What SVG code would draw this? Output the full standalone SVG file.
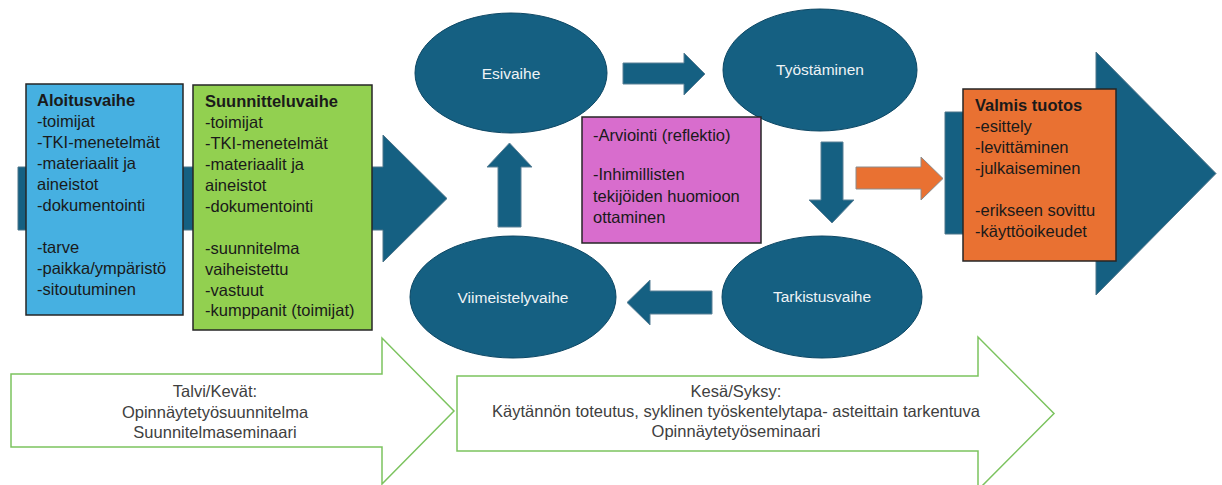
<svg xmlns="http://www.w3.org/2000/svg" width="1222" height="485" viewBox="0 0 1222 485">
<style>
text{font-family:"Liberation Sans",Arial,sans-serif;}
.bt{font-size:16.5px;fill:#1a1a1a;}
.bt .h{font-weight:bold;}
.et{font-size:15.5px;fill:#eef3f6;text-anchor:middle;}
.lt{font-size:16.5px;fill:#404040;text-anchor:middle;}
.big{fill:#156082;stroke:#4d7489;stroke-width:1;}
.ell{fill:#156082;stroke:#0d4764;stroke-width:1;}
.conn{fill:#156082;stroke:#5b8096;stroke-width:1;}
.box{stroke:#262626;stroke-width:1.5;}
.tl{fill:#ffffff;stroke:#7cc35f;stroke-width:1.5;}
</style>
<rect width="1222" height="485" fill="#ffffff"/>
<g id="background-arrows">
<path class="big" d="M18,167 H383 V135 L447,198.5 L383,262 V230 H18 Z"/>
<path class="big" d="M945,112 H1096 V52 L1216,173.5 L1096,295 V234 H945 Z"/>
</g>
<g id="timeline">
<g id="talvi-kevat">
<path class="tl" d="M11,374 H382 V338 L454,411 L382,484 V447 H11 Z"/>
<text class="lt" x="215" y="397">Talvi/Kevät:</text>
<text class="lt" x="215" y="418">Opinnäytetyösuunnitelma</text>
<text class="lt" x="215" y="438">Suunnitelmaseminaari</text>
</g>
<g id="kesa-syksy">
<path class="tl" d="M457,376 H978 V337 L1054,413.5 L978,490 V451 H457 Z"/>
<text class="lt" x="736" y="397">Kesä/Syksy:</text>
<text class="lt" x="736" y="417">Käytännön toteutus, syklinen työskentelytapa- asteittain tarkentuva</text>
<text class="lt" x="736" y="437">Opinnäytetyöseminaari</text>
</g>
</g>
<g id="aloitusvaihe">
<rect class="box" x="26" y="84" width="157" height="231" fill="#46b0e1"/>
<text class="bt" x="37"><tspan class="h" x="37" y="106">Aloitusvaihe</tspan><tspan x="37" y="127">-toimijat</tspan><tspan x="37" y="148">-TKI-menetelmät</tspan><tspan x="37" y="169">-materiaalit ja</tspan><tspan x="37" y="190">aineistot</tspan><tspan x="37" y="211">-dokumentointi</tspan><tspan x="37" y="253">-tarve</tspan><tspan x="37" y="274">-paikka/ympäristö</tspan><tspan x="37" y="295">-sitoutuminen</tspan></text>
</g>
<g id="suunnitteluvaihe">
<rect class="box" x="193" y="85" width="179" height="245" fill="#92d050"/>
<text class="bt" x="205"><tspan class="h" x="205" y="107">Suunnitteluvaihe</tspan><tspan x="205" y="128">-toimijat</tspan><tspan x="205" y="149">-TKI-menetelmät</tspan><tspan x="205" y="170">-materiaalit ja</tspan><tspan x="205" y="191">aineistot</tspan><tspan x="205" y="212">-dokumentointi</tspan><tspan x="205" y="254">-suunnitelma</tspan><tspan x="205" y="275">vaiheistettu</tspan><tspan x="205" y="296">-vastuut</tspan><tspan x="205" y="316">-kumppanit (toimijat)</tspan></text>
</g>
<g id="connectors">
<path class="conn" d="M623,63 H684 V53 L705,74 L684,95 V84 H623 Z"/>
<path class="conn" d="M821,142 H843 V200 H854 L832,223 L809,200 H821 Z"/>
<path class="conn" d="M712,291 H650 V280 L627,302.5 L650,325 V314 H712 Z"/>
<path class="conn" d="M498,227 V167 H487 L509.5,143 L532,167 H521 V227 Z"/>
<path d="M856,167 H921 V157 L943,178.5 L921,200 V189 H856 Z" fill="#e97132" stroke="#8c8c8c" stroke-width="1"/>
</g>
<g id="esivaihe">
<ellipse class="ell" cx="511" cy="73" rx="96" ry="60"/>
<text class="et" x="511" y="79">Esivaihe</text>
</g>
<g id="tyostaminen">
<ellipse class="ell" cx="820" cy="70" rx="97" ry="61"/>
<text class="et" x="820" y="75">Työstäminen</text>
</g>
<g id="tarkistusvaihe">
<ellipse class="ell" cx="822" cy="297" rx="100" ry="61"/>
<text class="et" x="822" y="302">Tarkistusvaihe</text>
</g>
<g id="viimeistelyvaihe">
<ellipse class="ell" cx="513" cy="297" rx="103" ry="61"/>
<text class="et" x="513" y="303">Viimeistelyvaihe</text>
</g>
<g id="arviointi">
<rect class="box" x="582" y="117" width="179" height="126" fill="#d86dcd"/>
<text class="bt" x="593"><tspan x="593" y="141">-Arviointi (reflektio)</tspan><tspan x="593" y="180">-Inhimillisten</tspan><tspan x="593" y="202">tekijöiden huomioon</tspan><tspan x="593" y="223">ottaminen</tspan></text>
</g>
<g id="valmis-tuotos">
<rect class="box" x="963" y="89" width="153" height="172" fill="#e97132"/>
<text class="bt" x="975"><tspan class="h" x="975" y="111">Valmis tuotos</tspan><tspan x="975" y="132">-esittely</tspan><tspan x="975" y="153">-levittäminen</tspan><tspan x="975" y="174">-julkaiseminen</tspan><tspan x="975" y="216">-erikseen sovittu</tspan><tspan x="975" y="237">-käyttöoikeudet</tspan></text>
</g>
</svg>
